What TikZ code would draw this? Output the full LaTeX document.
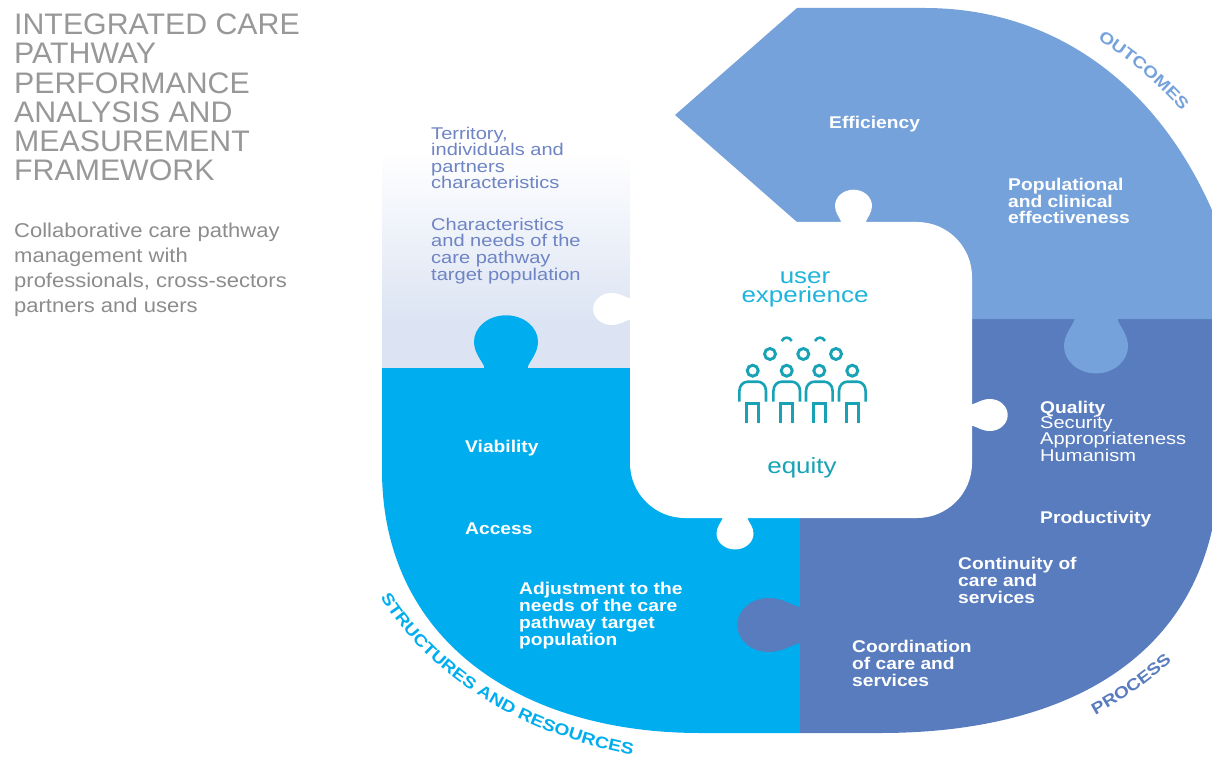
\documentclass[tikz,border=0pt]{standalone}
\usepackage{fontspec}
\usetikzlibrary{decorations.text}
\setmainfont{Liberation Sans}
\newfontfamily\wideA[FakeStretch=1.13]{Liberation Sans}
\newfontfamily\wideB[FakeStretch=1.18]{Liberation Sans}
\newfontfamily\wideC[FakeStretch=1.10]{Liberation Sans}
\newfontfamily\wideT[FakeStretch=1.02]{Liberation Sans}
\definecolor{lightblue}{HTML}{76A2DB}
\definecolor{darkblue}{HTML}{587CBE}
\definecolor{cyanblue}{HTML}{00AEEF}
\definecolor{panelend}{HTML}{DCE4F3}
\definecolor{titlegray}{HTML}{989898}
\definecolor{subgray}{HTML}{8C8C8C}
\definecolor{paneltext}{HTML}{6E84C4}
\definecolor{usercol}{HTML}{1FB4DC}
\definecolor{teal}{HTML}{17A3B5}
\newcommand{\jig}[6]{\fill[#1,shift={(#2,#3)},rotate=#4,xscale=#5,yscale=#6]
 (-.68,.06) -- (-.68,-.04) .. controls (-.74,-.22) and (-1,-.48) .. (-1,-.85)
 .. controls (-1,-1.32) and (-.55,-1.7) .. (0,-1.7)
 .. controls (.55,-1.7) and (1,-1.32) .. (1,-.85)
 .. controls (1,-.48) and (.74,-.22) .. (.68,-.04) -- (.68,.06) -- cycle;}
\newcommand{\person}[1]{%
 \draw[iconhead] (#1,370.7) circle (5.5);
 \draw[iconline] (#1-13.3,401.7) -- (#1-13.3,391) .. controls (#1-13.3,385) and (#1-9,381.7) .. (#1-5,381.7)
   -- (#1+5,381.7) .. controls (#1+9,381.7) and (#1+13.3,385) .. (#1+13.3,391) -- (#1+13.3,401.7);
 \draw[iconline] (#1-6,423) -- (#1-6,403.5) -- (#1+6,403.5) -- (#1+6,423);}
\tikzset{
 x=1pt,y=-1pt,
 whitehead/.style={anchor=base west,inner sep=0,align=left,text=white,font=\wideA\bfseries\fontsize{17}{16.8}\selectfont},
 whiteplain/.style={anchor=base west,inner sep=0,align=left,text=white,font=\wideB\fontsize{17}{16.5}\selectfont},
 paneltxt/.style={anchor=base west,inner sep=0,align=left,text=paneltext,font=\wideB\fontsize{17}{16.6}\selectfont},
 iconline/.style={draw=teal,line width=2.6pt},
 iconhead/.style={draw=teal,line width=2.9pt},
 heading/.style={anchor=base west,inner sep=0,align=left,text=titlegray,font=\wideT\fontsize{29.7}{29.3}\selectfont},
 subheading/.style={anchor=base west,inner sep=0,align=left,text=subgray,font=\wideC\fontsize{20}{24.8}\selectfont},
 curved/.style={decorate,decoration={text along path,text align=center,text={#1}}},
}
\newcommand{\cf}{\wideB\bfseries\fontsize{16.3}{16}\selectfont}
\begin{document}
\begin{tikzpicture}
\useasboundingbox (0,0) rectangle (1212,759);
% gradient panel
\shade[top color=white,bottom color=panelend] (382,150) rectangle (630,322);
\fill[panelend] (382,321) rectangle (630,369);
% cyan
\fill[cyanblue] (382,368) -- (800,368) -- (800,733) -- (700,733) .. controls (520,733) and (382,640) .. (382,470) -- cycle;
% dark
\fill[darkblue] (800,319) -- (1212,319) -- (1212,530) .. controls (1180,670) and (1050,733) .. (880,733) -- (800,733) -- cycle;
% light
\fill[lightblue] (797,8) -- (925,8) .. controls (1040,8) and (1150,70) .. (1212,210) -- (1212,319) -- (797,319) -- (797,222) -- (675,115) -- cycle;
% interlocking knobs
\jig{cyanblue}{506}{368}{0}{32}{31}
\jig{lightblue}{1096}{319}{180}{32}{32}
\jig{darkblue}{800}{625}{90}{27}{37}
% centre piece
\node[fill=white,rounded corners=55pt,minimum width=342pt,minimum height=296pt,inner sep=0] (centre) at (801,370) {};
\jig{white}{853.5}{222}{0}{18.5}{19}
\jig{white}{972}{415}{-90}{16}{21}
\jig{white}{735}{518}{180}{18.5}{18.5}
\jig{white}{630}{309}{90}{16}{21.7}
% title
\node[heading] (title) at (14,181) {INTEGRATED CARE\\PATHWAY\\PERFORMANCE\\ANALYSIS AND\\MEASUREMENT\\FRAMEWORK};
\node[subheading] (subtitle) at (14,312) {Collaborative care pathway\\management with\\professionals, cross-sectors\\partners and users};
% panel text
\node[paneltxt] (territory) at (431,189) {Territory,\\individuals and\\partners\\characteristics};
\node[paneltxt] (needs) at (431,280) {Characteristics\\and needs of the\\care pathway\\target population};
% outcomes
\node[whitehead] (efficiency) at (829,129) {Efficiency};
\node[whitehead] (popul) at (1008,224) {Populational\\and clinical\\effectiveness};
% process
\node[whitehead] (quality) at (1040,413) {Quality};
\node[whiteplain] (security) at (1040,461) {Security\\Appropriateness\\Humanism};
\node[whitehead] (productivity) at (1040,523) {Productivity};
\node[whitehead] (continuity) at (958,603) {Continuity of\\care and\\services};
\node[whitehead] (coordination) at (852,686) {Coordination\\of care and\\services};
% structures
\node[whitehead] (viability) at (465,452) {Viability};
\node[whitehead] (access) at (465,534) {Access};
\node[whitehead] (adjust) at (519,645) {Adjustment to the\\needs of the care\\pathway target\\population};
% centre text
\node[anchor=base,inner sep=0,text=usercol,font=\wideB\fontsize{22}{19}\selectfont,align=center] (user) at (805,302) {user\\experience};
\node[anchor=base,inner sep=0,text=teal,font=\wideB\fontsize{22}{22}\selectfont] (equity) at (802,473) {equity};
% icon
\person{752.7}\person{786.7}\person{819.3}\person{852.3}
\draw[iconhead] (770,354) circle (5.5);
\draw[iconhead] (803.3,354) circle (5.5);
\draw[iconhead] (836,354) circle (5.5);
\draw[iconline] (781.7,341) .. controls (784,336.5) and (789.4,336.5) .. (791.7,341);
\draw[iconline] (815,341) .. controls (817.3,336.5) and (822.7,336.5) .. (825,341);
% curved labels
\path[curved={|\cf\color{lightblue}|OUTCOMES}] (1092,36) .. controls (1125,56) and (1160,85) .. (1186,116);
\path[curved={|\cf\color{darkblue}|PROCESS}] (1088,719) .. controls (1120,702) and (1150,682) .. (1178,655);
\path[curved={|\cf\color{cyanblue}|STRUCTURES AND RESOURCES}] (375,588) .. controls (420,668) and (510,734) .. (643,757);
\end{tikzpicture}
\end{document}
